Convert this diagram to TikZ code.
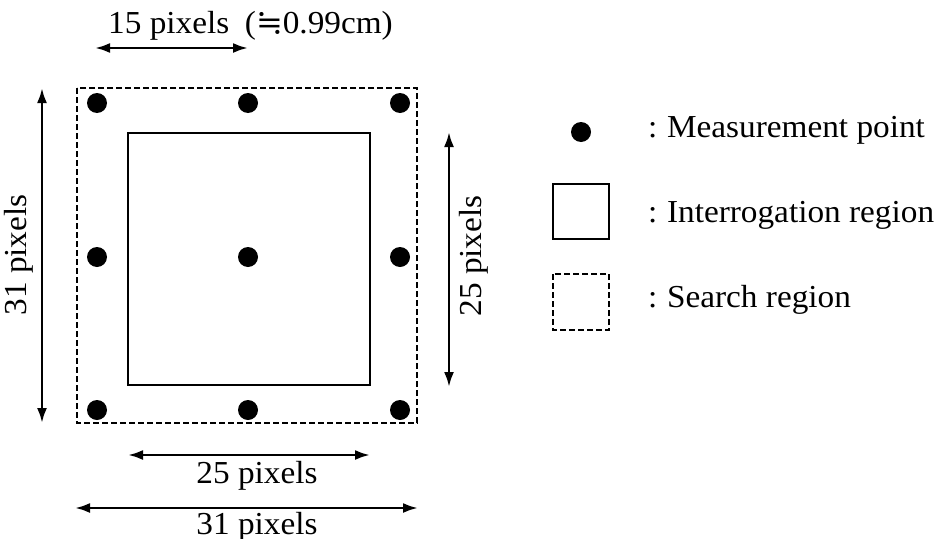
\documentclass[tikz,border=0pt]{standalone}
\usepackage{fontspec}
\setmainfont{Liberation Serif}[FakeStretch=1.04]
\newfontfamily\symfont{DejaVu Serif}
\usetikzlibrary{arrows.meta}
\begin{document}
\begin{tikzpicture}[x=1pt,y=-1pt,
  lbl/.style={font=\fontsize{32}{36}\selectfont, inner sep=0pt},
  dot/.style={circle, fill=black, minimum size=20pt, inner sep=0pt},
  dim/.style={line width=2.6pt, {Latex[length=15pt,width=10pt]}-{Latex[length=15pt,width=10pt]}},
  searchbox/.style={draw, line width=2.2pt, dash pattern=on 6pt off 3pt},
  interbox/.style={draw, line width=2.6pt}]
\useasboundingbox (0,0) rectangle (942,538);
% regions
\draw[searchbox] (77,88) rectangle (417,423);
\draw[interbox] (128,133) rectangle (370,385);
% measurement points
\foreach \i/\x in {a/97,b/248,c/400}{
  \foreach \j/\y in {1/103,2/257,3/410}{
    \node[dot] (p\i\j) at (\x,\y) {};
  }
}
% dimension arrows
\coordinate (t1) at (95,48);
\coordinate (t2) at (248,48);
\draw[dim] (t1) -- (t2);
\node[lbl, anchor=base west] (ttxt) at (108,33) {15 pixels};
\node[lbl, anchor=base east] (tcm) at (393,33) {({\symfont ≒}0.99cm)};
\coordinate (l1) at (42,88);
\coordinate (l2) at (42,423);
\draw[dim] (l1) -- (l2);
\node[lbl, rotate=90] (ltxt) at (19,255) {31 pixels};
\coordinate (r1) at (449,132);
\coordinate (r2) at (449,387);
\draw[dim] (r1) -- (r2);
\node[lbl, rotate=90] (rtxt) at (474,256) {25 pixels};
\coordinate (b1) at (128,455);
\coordinate (b2) at (370,455);
\draw[dim] (b1) -- (b2);
\node[lbl, anchor=base] (btxt) at (257,483) {25 pixels};
\coordinate (c1) at (75,508);
\coordinate (c2) at (418,508);
\draw[dim] (c1) -- (c2);
\node[lbl, anchor=base] (ctxt) at (257,534) {31 pixels};
% legend
\node[dot] (legdot) at (581,132) {};
\node[lbl, anchor=base west] (legt1) at (648,137) {:\hspace{0.3em}Measurement point};
\draw[interbox] (553,184) rectangle (609,239);
\node[lbl, anchor=base west] (legt2) at (648,222) {:\hspace{0.3em}Interrogation region};
\draw[searchbox] (553,274) rectangle (609,330);
\node[lbl, anchor=base west] (legt3) at (648,307) {:\hspace{0.3em}Search region};
\end{tikzpicture}
\end{document}
